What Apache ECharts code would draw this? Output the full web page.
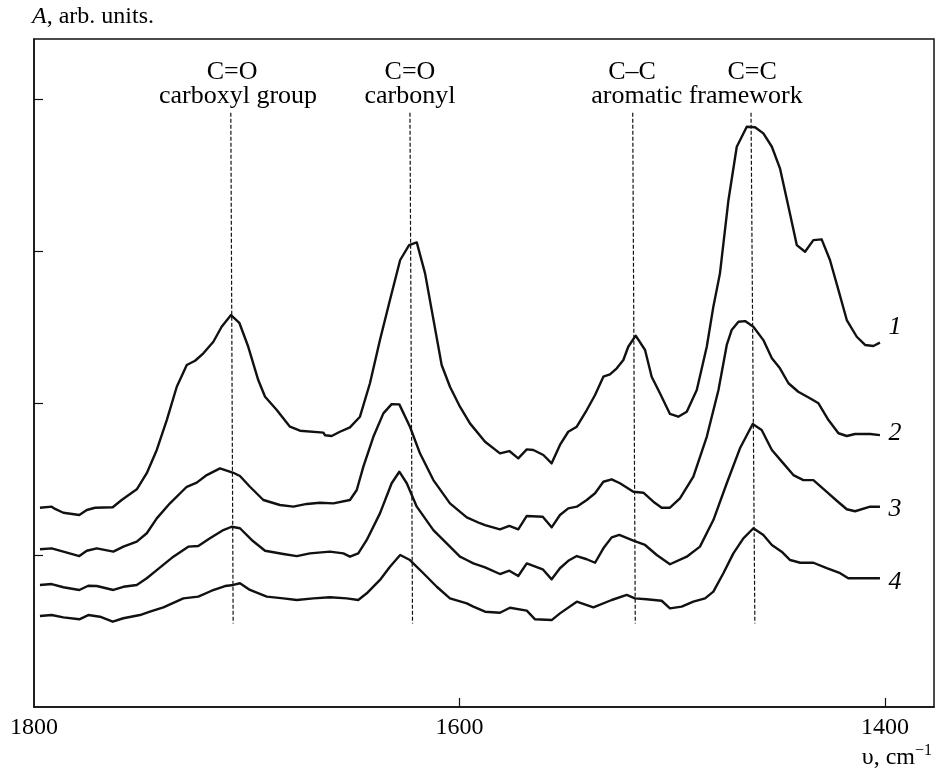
<!DOCTYPE html>
<html>
<head>
<meta charset="utf-8">
<title>IR spectra</title>
<style>
  html, body { margin: 0; padding: 0; background: #fff; }
  #chart { width: 935px; height: 771px; }
</style>
<script src="https://cdn.jsdelivr.net/npm/echarts@6/dist/echarts.min.js"></script>
</head>
<body>
<div id="chart"></div>
<script>
// wavenumber (cm-1) and absorbance (arb. units), curves 1..4
const wn1 = [1797.2,1791.7,1790.1,1786.2,1778.7,1775.2,1771.3,1763.0,1758.8,1751.7,1747.0,1742.3,1737.6,1732.9,1728.2,1724.3,1720.4,1715.7,1711.8,1707.4,1703.5,1699.3,1694.6,1691.4,1685.9,1679.7,1675.0,1664.0,1663.2,1660.1,1656.2,1651.5,1646.8,1642.1,1637.4,1632.7,1627.9,1623.7,1620.1,1616.2,1608.4,1604.5,1599.8,1595.1,1588.0,1581.0,1576.6,1572.4,1568.4,1565.3,1560.6,1556.7,1552.8,1548.9,1544.9,1540.2,1536.3,1532.4,1529.3,1526.1,1523.0,1520.7,1517.2,1512.8,1509.7,1505.8,1501.1,1497.2,1493.2,1488.5,1483.8,1480.7,1477.6,1473.6,1469.7,1465.0,1461.1,1457.2,1453.2,1449.4,1445.4,1441.5,1437.6,1433.7,1429.8,1425.9,1421.9,1418.0,1413.3,1409.4,1405.5,1402.4];
const abs1 = [1.311,1.318,1.303,1.278,1.263,1.296,1.311,1.314,1.362,1.432,1.538,1.691,1.888,2.107,2.250,2.278,2.327,2.403,2.502,2.579,2.528,2.370,2.151,2.041,1.954,1.844,1.818,1.805,1.788,1.783,1.811,1.840,1.910,2.130,2.414,2.678,2.941,3.039,3.057,2.853,2.250,2.107,1.976,1.866,1.745,1.669,1.684,1.636,1.695,1.691,1.658,1.603,1.724,1.811,1.844,1.954,2.053,2.173,2.189,2.228,2.283,2.370,2.443,2.349,2.173,2.064,1.928,1.910,1.943,2.086,2.370,2.634,2.853,3.336,3.686,3.818,3.814,3.774,3.686,3.544,3.291,3.039,2.995,3.072,3.077,2.941,2.743,2.546,2.436,2.382,2.375,2.397];

const wn2 = [1797.2,1791.7,1786.2,1778.7,1775.2,1770.5,1762.7,1758.0,1751.7,1747.0,1742.3,1736.1,1728.2,1723.5,1718.8,1712.6,1706.3,1703.2,1698.5,1692.2,1684.4,1678.1,1671.8,1665.6,1659.3,1651.5,1648.3,1645.2,1640.5,1635.8,1631.9,1628.3,1623.3,1618.6,1612.3,1604.5,1596.6,1590.4,1588.0,1581.0,1576.6,1572.4,1568.4,1560.9,1556.7,1552.8,1548.9,1544.9,1540.2,1536.3,1532.4,1528.5,1524.6,1518.3,1513.6,1508.9,1505.0,1501.1,1496.4,1490.1,1483.8,1478.3,1474.4,1472.1,1468.9,1465.8,1461.9,1457.2,1453.2,1449.4,1445.4,1440.8,1435.3,1431.3,1426.6,1421.9,1418.0,1414.1,1407.0,1402.4];
const abs2 = [1.038,1.044,1.022,0.993,1.028,1.044,1.022,1.055,1.088,1.143,1.241,1.340,1.449,1.476,1.526,1.570,1.541,1.520,1.449,1.362,1.329,1.318,1.336,1.344,1.340,1.362,1.428,1.581,1.778,1.932,1.993,1.991,1.844,1.669,1.493,1.340,1.248,1.209,1.197,1.169,1.191,1.169,1.257,1.252,1.182,1.263,1.307,1.318,1.362,1.406,1.482,1.498,1.472,1.416,1.410,1.351,1.311,1.311,1.373,1.515,1.778,2.086,2.382,2.480,2.535,2.539,2.502,2.414,2.294,2.228,2.130,2.074,2.031,1.998,1.888,1.801,1.783,1.796,1.796,1.789];

const wn3 = [1797.2,1791.7,1786.2,1778.7,1774.5,1770.5,1762.7,1758.0,1751.7,1747.0,1742.3,1734.5,1727.5,1722.8,1717.3,1711.0,1707.1,1703.2,1697.7,1691.4,1682.8,1676.5,1670.3,1660.9,1654.6,1651.5,1647.6,1643.6,1637.4,1631.9,1628.3,1624.8,1620.1,1612.3,1604.5,1599.8,1596.6,1593.5,1588.0,1581.0,1576.6,1572.4,1568.4,1560.9,1556.7,1552.8,1548.9,1544.9,1540.2,1536.3,1532.4,1528.5,1524.9,1518.3,1512.8,1507.3,1501.1,1493.2,1487.0,1480.7,1474.4,1468.2,1462.2,1458.0,1453.2,1447.8,1443.1,1438.4,1433.7,1427.4,1422.7,1418.0,1414.1,1407.0,1402.4];
const abs3 = [0.803,0.809,0.788,0.770,0.798,0.796,0.770,0.791,0.803,0.847,0.901,0.989,1.055,1.059,1.110,1.164,1.186,1.176,1.099,1.028,1.007,0.993,1.011,1.022,1.011,0.989,1.011,1.099,1.274,1.472,1.548,1.472,1.318,1.164,1.055,0.989,0.967,0.945,0.919,0.875,0.897,0.862,0.945,0.906,0.840,0.913,0.962,0.993,0.972,0.949,1.044,1.116,1.132,1.094,1.066,1.000,0.939,0.989,1.055,1.230,1.472,1.702,1.862,1.822,1.691,1.603,1.526,1.493,1.493,1.416,1.357,1.301,1.288,1.318,1.318];

const wn4 = [1797.2,1791.7,1786.2,1778.7,1774.5,1769.0,1763.0,1758.0,1750.2,1745.5,1739.2,1729.8,1722.8,1716.5,1710.2,1706.3,1703.2,1698.5,1690.6,1682.8,1676.5,1668.7,1660.9,1653.0,1647.6,1643.6,1637.4,1632.7,1627.9,1623.3,1617.0,1610.7,1604.5,1596.6,1593.5,1588.0,1581.0,1576.3,1568.4,1564.5,1556.7,1552.8,1544.9,1537.1,1528.5,1521.4,1517.6,1512.1,1505.0,1501.1,1495.6,1490.1,1484.6,1480.7,1476.0,1471.3,1466.6,1461.9,1457.2,1453.2,1448.6,1444.6,1439.9,1433.7,1427.4,1421.1,1417.3,1402.4];
const abs4 = [0.599,0.605,0.590,0.577,0.605,0.594,0.561,0.584,0.605,0.627,0.656,0.715,0.726,0.765,0.796,0.803,0.814,0.770,0.726,0.715,0.704,0.715,0.722,0.715,0.704,0.748,0.836,0.923,1.000,0.967,0.880,0.791,0.715,0.682,0.660,0.627,0.620,0.653,0.634,0.577,0.572,0.616,0.693,0.656,0.704,0.737,0.715,0.709,0.699,0.649,0.660,0.693,0.715,0.759,0.880,1.011,1.110,1.176,1.132,1.066,1.022,0.967,0.949,0.949,0.913,0.880,0.847,0.847];

// curve numbers at the right end
const curveNames = ['1', '2', '3', '4'];
const curveNameWn = [1395.3, 1395.3, 1395.3, 1395.3];
const curveNameA = [2.50, 1.80, 1.30, 0.82];

// band assignments: dashed lines (top / bottom ends)
const bandTopWn = [1707.5, 1623.3, 1518.6, 1463.0];
const bandBottomWn = [1706.4, 1622.1, 1517.4, 1461.2];
const bandTopA = 3.91;
const bandBottomA = 0.55;

// band captions
const captionText = ['C=O', 'carboxyl group', 'C=O', 'carbonyl', 'C\u2013C', 'C=C', 'aromatic framework'];
const captionWn = [1706.9, 1704.1, 1623.3, 1623.3, 1518.9, 1462.5, 1488.4];
const captionA = [4.18, 4.02, 4.18, 4.02, 4.18, 4.18, 4.02];

// axis ticks
const xTickValues = [1600, 1400];
const xLabelValues = [1800, 1600, 1400];
const yTickValues = [1, 2, 3, 4];

const FONT = '"Liberation Serif", "DejaVu Serif", serif';
const INK = '#111';

const zip = (xs, ys) => xs.map((x, i) => [x, ys[i]]);

const curves = [
  zip(wn1, abs1),
  zip(wn2, abs2),
  zip(wn3, abs3),
  zip(wn4, abs4),
];

const chart = echarts.init(document.getElementById('chart'));

const series = [];

curves.forEach((data, i) => {
  series.push({
    name: 'curve ' + curveNames[i],
    type: 'line',
    data: data,
    showSymbol: false,
    symbol: 'none',
    smooth: false,
    lineStyle: { color: INK, width: 2.4, join: 'round' },
    z: 3,
  });
});

bandTopWn.forEach((wn, i) => {
  series.push({
    type: 'line',
    data: [[wn, bandTopA], [bandBottomWn[i], bandBottomA]],
    symbol: 'none',
    silent: true,
    lineStyle: { color: INK, width: 1.2, type: [4, 2] },
    z: 2,
  });
});

// text-only scatter: symbol of size 0, label carries the text
function textSeries(texts, wns, as, extra) {
  return {
    type: 'scatter',
    symbol: 'circle',
    symbolSize: 0,
    silent: true,
    itemStyle: { color: INK, opacity: 1 },
    data: texts.map((t, i) => ({
      value: [wns[i], as[i]],
      label: { formatter: t },
    })),
    label: Object.assign({
      show: true,
      position: 'inside',
      fontFamily: FONT,
      fontSize: 26,
      color: '#000',
      opacity: 1,
      textBorderWidth: 0,
    }, extra),
    z: 4,
  };
}

series.push(textSeries(captionText, captionWn, captionA, {}));
series.push(textSeries(curveNames, curveNameWn, curveNameA, { fontStyle: 'italic', fontSize: 26 }));

chart.setOption({
  animation: false,
  backgroundColor: '#fff',
  grid: {
    left: 34,
    right: 1,
    top: 39,
    bottom: 64,
    show: true,
    borderColor: INK,
    borderWidth: 1.5,
    containLabel: false,
  },
  xAxis: {
    type: 'value',
    min: 1377,
    max: 1800,
    inverse: true,
    axisLine: { show: true, lineStyle: { color: INK, width: 1.5 } },
    axisTick: { show: true, inside: true, length: 9, customValues: xTickValues, lineStyle: { color: INK, width: 1.2 } },
    axisLabel: {
      customValues: xLabelValues,
      formatter: (v) => String(v),
      fontFamily: FONT,
      fontSize: 24,
      color: '#000',
      margin: 9,
    },
    splitLine: { show: false },
  },
  yAxis: {
    type: 'value',
    min: 0,
    max: 4.395,
    axisLine: { show: true, lineStyle: { color: INK, width: 1.5 } },
    axisTick: { show: true, inside: true, length: 9, customValues: yTickValues, lineStyle: { color: INK, width: 1.2 } },
    axisLabel: { show: false },
    splitLine: { show: false },
  },
  graphic: [
    {
      type: 'text',
      left: 32,
      top: 5,
      style: {
        text: '{i|A}, arb. units.',
        fontFamily: FONT,
        fontSize: 24,
        fill: '#000',
        rich: { i: { fontFamily: FONT, fontSize: 24, fontStyle: 'italic', fill: '#000' } },
      },
    },
    {
      type: 'text',
      right: 3,
      bottom: 1,
      style: {
        text: '{n|\u03c5, cm}{s|\u22121}',
        fill: '#000',
        rich: {
          n: { fontFamily: FONT, fontSize: 24, fill: '#000' },
          s: { fontFamily: FONT, fontSize: 16, fill: '#000', padding: [0, 0, 14, 0] },
        },
      },
    },
  ],
  series: series,
});
</script>
</body>
</html>
